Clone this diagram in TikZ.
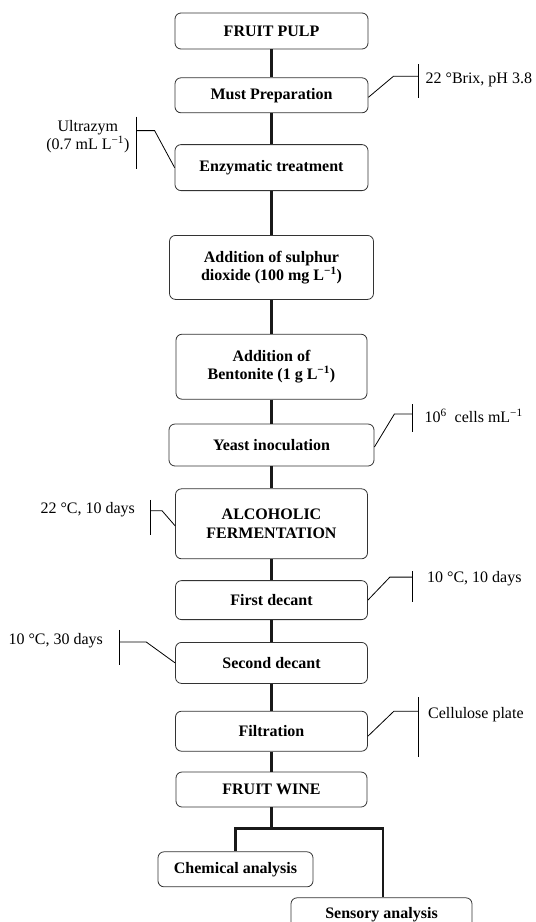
\documentclass[tikz,border=0pt]{standalone}
\usepackage{fontspec}
\setmainfont{Liberation Serif}
\usetikzlibrary{positioning}

\tikzset{
    proc/.style={draw=black!80, line width=0.8pt, rounded corners=6pt, align=center,
        font=\fontsize{16}{18.5}\selectfont\bfseries, inner sep=2pt,
        minimum width=192pt},
    note/.style={font=\fontsize{16}{18.5}\selectfont, inner sep=0pt, align=center},
    flow/.style={line width=2.6pt, black!90},
    tick/.style={line width=0.8pt}
}

\begin{document}
\begin{tikzpicture}[x=1pt, y=1pt]
    \useasboundingbox (0,0) rectangle (536,-922);

    % main line of the process
    \node [proc, minimum height=36pt, minimum width=193pt] (pulp) at (271.5,-31) {FRUIT PULP};
    \node [proc, below=28pt of pulp, minimum height=35pt, minimum width=193pt] (must) {Must Preparation};
    \node [proc, below=31pt of must, minimum height=46pt, minimum width=193pt] (enz) {Enzymatic treatment};
    \node [proc, below=44pt of enz, minimum height=64pt, minimum width=204pt] (sulph) {Addition of sulphur\\dioxide (100 mg L\textsuperscript{−1})};
    \node [proc, below=34pt of sulph, minimum height=65pt, minimum width=191pt] (bent) {Addition of\\Bentonite (1 g L\textsuperscript{−1})};
    \node [proc, below=24pt of bent, minimum height=42pt, minimum width=205pt] (yeast) {Yeast inoculation};
    \node [proc, below=22pt of yeast, minimum height=70pt] (ferm) {ALCOHOLIC\\FERMENTATION};
    \node [proc, below=21pt of ferm, minimum height=39pt] (dec1) {First decant};
    \node [proc, below=22pt of dec1, minimum height=41pt] (dec2) {Second decant};
    \node [proc, below=27pt of dec2, minimum height=40pt] (filt) {Filtration};
    \node [proc, below=20pt of filt, minimum height=35pt, minimum width=191pt] (wine) {FRUIT WINE};
    \node [proc, below=44pt of wine, xshift=-36pt, minimum height=35pt, minimum width=155pt] (chem) {Chemical analysis};
    % runs past the lower edge, as in the source
    \node [proc, below=90pt of wine, xshift=110pt, minimum height=34pt, minimum width=181pt] (sens) {Sensory analysis};

    \draw [flow] (pulp) -- (must);
    \draw [flow] (must) -- (enz);
    \draw [flow] (enz) -- (sulph);
    \draw [flow] (sulph) -- (bent);
    \draw [flow] (bent) -- (yeast);
    \draw [flow] (yeast) -- (ferm);
    \draw [flow] (ferm) -- (dec1);
    \draw [flow] (dec1) -- (dec2);
    \draw [flow] (dec2) -- (filt);
    \draw [flow] (filt) -- (wine);
    \draw [flow] (wine.south) -- ++(0,-21) coordinate (fork);
    \draw [flow] (fork) -| (chem.north);
    \draw [flow] (fork) -| ([xshift=1.5pt]sens.north);

    % conditions
    \coordinate [above right=19pt and 25pt of must.east] (brixk);
    \coordinate [right=25pt of brixk] (brixb);
    \draw [tick] ([yshift=-2pt]must.east) -- (brixk) -- (brixb);
    \draw [tick] (brixb) ++(0,12) -- ++(0,-34);
    \node [note, right=7pt of brixb, yshift=-4pt] (brix) {22 °Brix, pH 3.8};

    \coordinate [above left=37pt and 20pt of enz.west] (ultk);
    \coordinate [left=18pt of ultk] (ultb);
    \draw [tick] (enz.west) -- (ultk) -- (ultb);
    \draw [tick] (ultb) ++(0,14) -- ++(0,-52);
    \node [note, left=7pt of ultb, yshift=-6pt] (ultra) {Ultrazym\\(0.7 mL L\textsuperscript{−1})};

    \coordinate [above right=31pt and 20pt of yeast.east] (cellk);
    \coordinate [right=18pt of cellk] (cellb);
    \draw [tick] ([yshift=-2pt]yeast.east) -- (cellk) -- (cellb);
    \draw [tick] (cellb) ++(0,10) -- ++(0,-28);
    \node [note, right=12pt of cellb, yshift=-2pt] (cells) {10\textsuperscript{6}\ \ cells mL\textsuperscript{−1}};

    \coordinate [above left=13pt and 13pt of ferm.west] (fermk);
    \coordinate [left=12pt of fermk] (fermb);
    \draw [tick] ([yshift=-2pt]ferm.west) -- (fermk) -- (fermb);
    \draw [tick] (fermb) ++(0,11) -- ++(0,-35);
    \node [note, left=15pt of fermb, yshift=1pt] (fermt) {22 °C, 10 days};

    \coordinate [above right=23pt and 22pt of dec1.east] (dec1k);
    \coordinate [right=22pt of dec1k] (dec1b);
    \draw [tick] (dec1.east) -- (dec1k) -- (dec1b);
    \draw [tick] (dec1b) ++(0,6) -- ++(0,-31);
    \node [note, right=15pt of dec1b, yshift=-2pt] (dec1t) {10 °C, 10 days};

    \coordinate [above left=21pt and 29pt of dec2.west] (dec2k);
    \coordinate [left=27pt of dec2k] (dec2b);
    \draw [tick] (dec2.west) -- (dec2k) -- (dec2b);
    \draw [tick] (dec2b) ++(0,12) -- ++(0,-35);
    \node [note, left=16pt of dec2b, yshift=1pt] (dec2t) {10 °C, 30 days};

    \coordinate [above right=20pt and 26pt of filt.east] (filtk);
    \coordinate [right=24pt of filtk] (filtb);
    \draw [tick] ([yshift=-5pt]filt.east) -- (filtk) -- (filtb);
    \draw [tick] (filtb) ++(0,14) -- ++(0,-60);
    \node [note, right=10pt of filtb, yshift=-3pt] (plate) {Cellulose plate};
\end{tikzpicture}
\end{document}
